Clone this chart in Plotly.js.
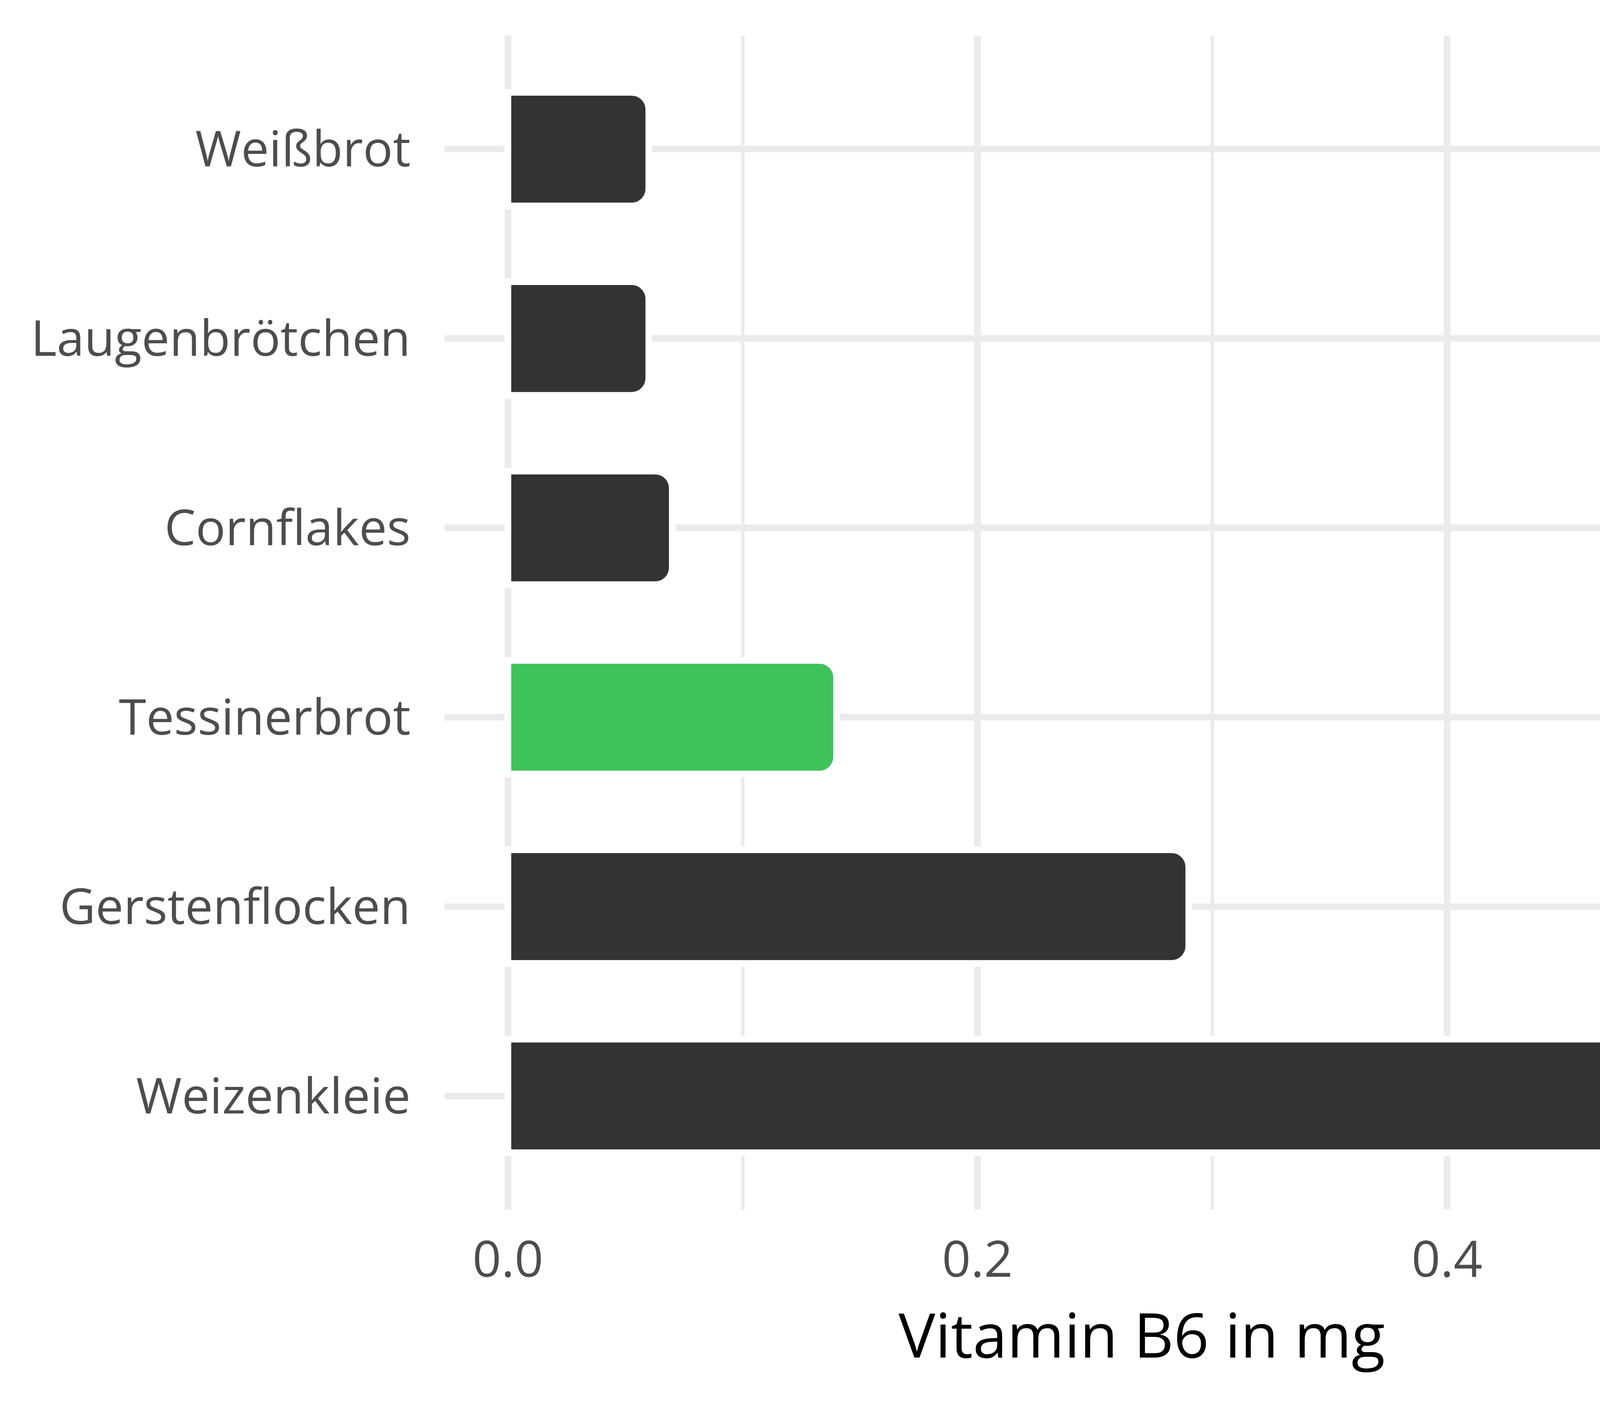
<!DOCTYPE html>
<html>
<head>
<meta charset="utf-8">
<script src="https://cdn.plot.ly/plotly-3.0.1.min.js"></script>
<style>
html, body { margin: 0; padding: 0; background: #ffffff; }
#chart { width: 4800px; height: 3600px; }
</style>
</head>
<body>
<div id="chart"></div>
<script>
// Data (top to bottom as shown)
const categories = ["Weißbrot", "Laugenbrötchen", "Cornflakes", "Tessinerbrot", "Gerstenflocken", "Weizenkleie"];
const vitaminB6 = [0.06, 0.06, 0.07, 0.14, 0.29, 0.54];
const barColors = ["#333333", "#333333", "#333333", "#3EC35A", "#333333", "#333333"];
const xTickVals = [0, 0.2, 0.4];
const xTickText = ["0.0", "0.2", "0.4"];
const xMinorVals = [0.1, 0.3, 0.5];
const xTitle = "Vitamin B6 in mg";

const trace = {
  type: "bar",
  orientation: "h",
  x: vitaminB6,
  y: categories,
  width: 0.6,
  marker: {
    color: barColors,
    line: { color: "#ffffff", width: 17 },
    cornerradius: 44
  },
  hoverinfo: "skip"
};

const fontFamily = "'Open Sans', 'Noto Sans', sans-serif";

const layout = {
  width: 4800,
  height: 3600,
  margin: { l: 1138, r: 92, t: 91, b: 503, pad: 0 },
  paper_bgcolor: "#ffffff",
  plot_bgcolor: "#ffffff",
  showlegend: false,
  font: { family: fontFamily, color: "#4D4D4D" },
  xaxis: {
    range: [-0.027, 0.567],
    tickvals: xTickVals,
    ticktext: xTickText,
    showgrid: true,
    gridcolor: "#EBEBEB",
    gridwidth: 17,
    zeroline: false,
    showline: false,
    ticks: "",
    ticklabelstandoff: 42,
    tickfont: { family: fontFamily, size: 129, color: "#4D4D4D" },
    minor: { tickvals: xMinorVals, showgrid: true, gridcolor: "#EBEBEB", gridwidth: 8.5, ticks: "" },
    title: { text: xTitle, font: { family: fontFamily, size: 158, color: "#000000" }, standoff: 30 },
    automargin: false,
    fixedrange: true
  },
  yaxis: {
    type: "category",
    autorange: false,
    range: [5.6, -0.6],
    showgrid: true,
    gridcolor: "#EBEBEB",
    gridwidth: 17,
    zeroline: false,
    showline: false,
    ticks: "",
    ticklabelstandoff: 86,
    tickfont: { family: fontFamily, size: 127, color: "#4D4D4D" },
    automargin: false,
    fixedrange: true
  },
  bargap: 0.4
};

Plotly.newPlot("chart", [trace], layout, { staticPlot: true, displayModeBar: false });
</script>
</body>
</html>
